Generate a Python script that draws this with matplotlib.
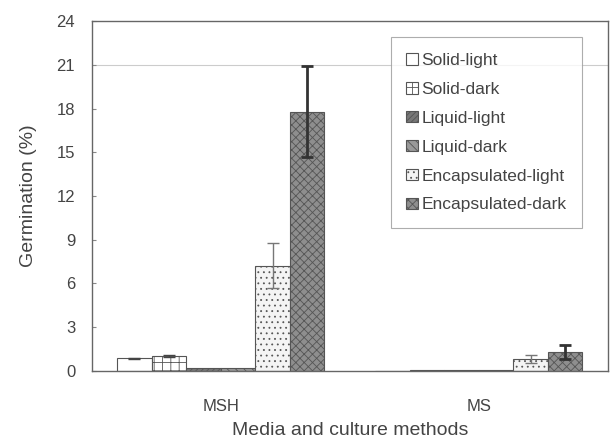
import numpy as np
import matplotlib.pyplot as plt

plt.rcParams['font.family'] = ['Liberation Sans', 'DejaVu Sans']
plt.rcParams['hatch.linewidth'] = 0.6

groups = ['MSH', 'MS']
series = ['Solid-light', 'Solid-dark', 'Liquid-light', 'Liquid-dark',
          'Encapsulated-light', 'Encapsulated-dark']
values = [
    [0.85, 0.0],    # Solid-light
    [1.0, 0.05],    # Solid-dark
    [0.2, 0.05],    # Liquid-light
    [0.2, 0.03],    # Liquid-dark
    [7.2, 0.8],     # Encapsulated-light
    [17.8, 1.3],    # Encapsulated-dark
]
errors = [
    [0.05, 0.0],
    [0.08, 0.0],
    [0.0, 0.0],
    [0.0, 0.0],
    [1.55, 0.25],
    [3.1, 0.5],
]

faces = ['white', 'white', '#777777', '#999999', '#f4f4f4', '#8e8e8e']
hatches = [None, '++', '//////', '\\\\\\\\', '...', 'xxxx']
err_colors = ['#444444', '#444444', '#444444', '#444444', '#777777', '#333333']
err_widths = [1.0, 1.0, 1.0, 1.0, 1.0, 2.0]

fig, ax = plt.subplots(figsize=(6.12, 4.44), dpi=100)
fig.subplots_adjust(left=0.15, right=0.993, top=0.952, bottom=0.165)

x = np.arange(len(groups))
w = 0.134
for i, name in enumerate(series):
    pos = x + (i - 2.5) * w
    ax.bar(pos, values[i], w, color=faces[i], edgecolor='#555555',
           linewidth=0.8, hatch=hatches[i], label=name)
    err = np.array(errors[i])
    mask = err > 0
    if mask.any():
        ax.errorbar(pos[mask], np.array(values[i])[mask], yerr=err[mask],
                    fmt='none', ecolor=err_colors[i], elinewidth=err_widths[i],
                    capsize=4, capthick=err_widths[i])

ax.axhline(21, color='#cccccc', linewidth=0.8, zorder=0)

ax.set_xlim(-0.5, 1.5)
ax.set_ylim(0, 24)
ax.set_yticks(range(0, 25, 3))
ax.set_xticks(x)
ax.set_xticklabels(groups)
ax.tick_params(axis='y', direction='in', length=3, color='#888888', pad=12,
               labelsize=12, labelcolor='#444444')
ax.tick_params(axis='x', length=0, pad=20, labelsize=12, labelcolor='#444444')
for s in ax.spines.values():
    s.set_color('#666666')
    s.set_linewidth(1.0)

ax.set_ylabel('Germination (%)', fontsize=14, color='#444444', labelpad=14)
ax.set_xlabel('Media and culture methods', fontsize=14, color='#444444', labelpad=6)

leg = ax.legend(loc='upper right', bbox_to_anchor=(0.95, 0.954), borderaxespad=0,
                fontsize=12.5, handlelength=0.65, handleheight=0.65,
                handletextpad=0.2, labelspacing=0.8, borderpad=0.9,
                fancybox=False, edgecolor='#999999', labelcolor='#444444')
leg.get_frame().set_linewidth(0.8)

fig.savefig('out.png', dpi=100)
